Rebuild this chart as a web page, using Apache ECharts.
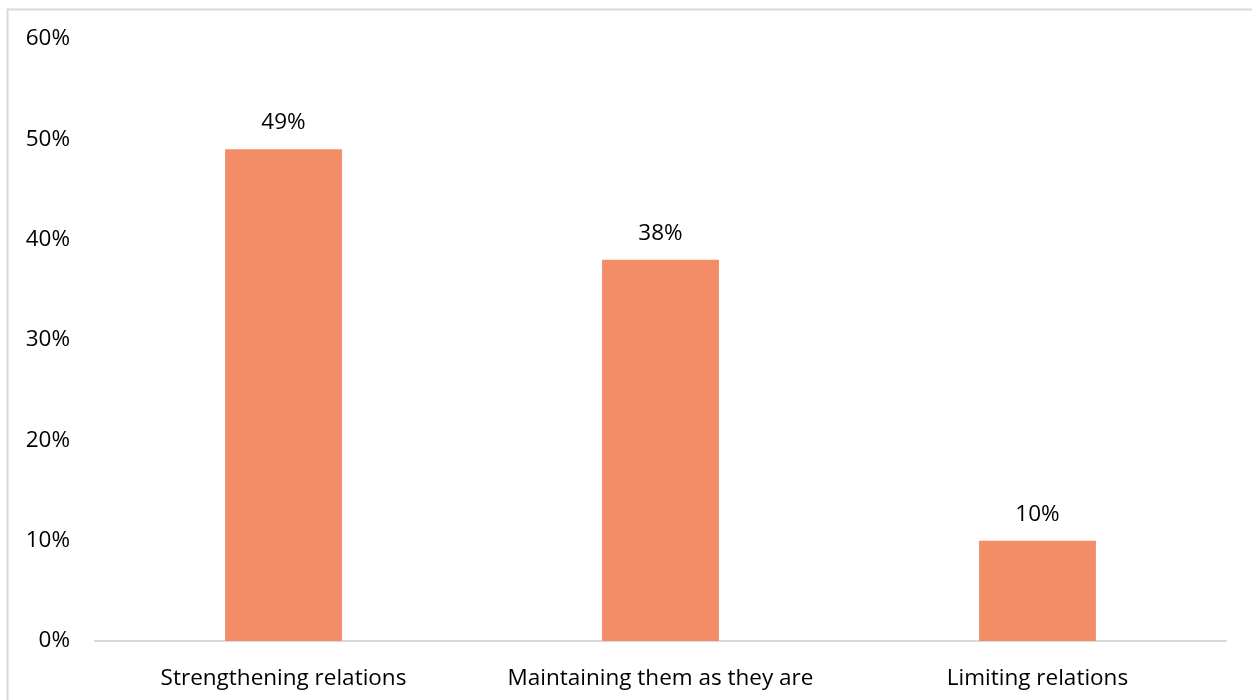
<!DOCTYPE html>
<html>
<head>
<meta charset="utf-8">
<style>
  html, body { margin: 0; padding: 0; background: #fff; }
  #chart { width: 1252px; height: 700px; }
</style>
<script src="https://cdn.jsdelivr.net/npm/echarts@6/dist/echarts.min.js"></script>
</head>
<body>
<div id="chart"></div>
<script>
const categories = ['Strengthening relations', 'Maintaining them as they are', 'Limiting relations'];
const shares = [49, 38, 10];
const yTicks = [0, 10, 20, 30, 40, 50, 60];

const font = '"Open Sans", sans-serif';
const fontSize = 22.5;
const chart = echarts.init(document.getElementById('chart'));

chart.setOption({
  animation: false,
  textStyle: { fontFamily: font },
  graphic: [{
    type: 'rect',
    shape: { x: 7.5, y: 9.5, width: 1300, height: 800 },
    style: { fill: 'none', stroke: '#d9d9d9', lineWidth: 2 },
    silent: true
  }],
  grid: { left: 95, right: 26, top: 39, bottom: 59, containLabel: false },
  xAxis: {
    type: 'category',
    data: categories,
    axisTick: { show: false },
    axisLine: { lineStyle: { color: '#d9d9d9', width: 2 } },
    axisLabel: { color: '#000', fontSize: fontSize, margin: 26, fontFamily: font, interval: 0, hideOverlap: false }
  },
  yAxis: {
    type: 'value',
    min: yTicks[0],
    max: yTicks[yTicks.length - 1],
    interval: 10,
    splitLine: { show: false },
    axisLine: { show: false },
    axisTick: { show: false },
    axisLabel: { color: '#000', fontSize: fontSize, margin: 25, fontFamily: font, formatter: v => v + '%' }
  },
  series: [{
    type: 'bar',
    data: shares,
    barWidth: '31%',
    itemStyle: { color: '#F38D68' },
    label: {
      show: true,
      position: 'top',
      distance: 15,
      color: '#000',
      fontSize: fontSize,
      fontFamily: font,
      formatter: p => p.value + '%'
    }
  }]
});
</script>
</body>
</html>
